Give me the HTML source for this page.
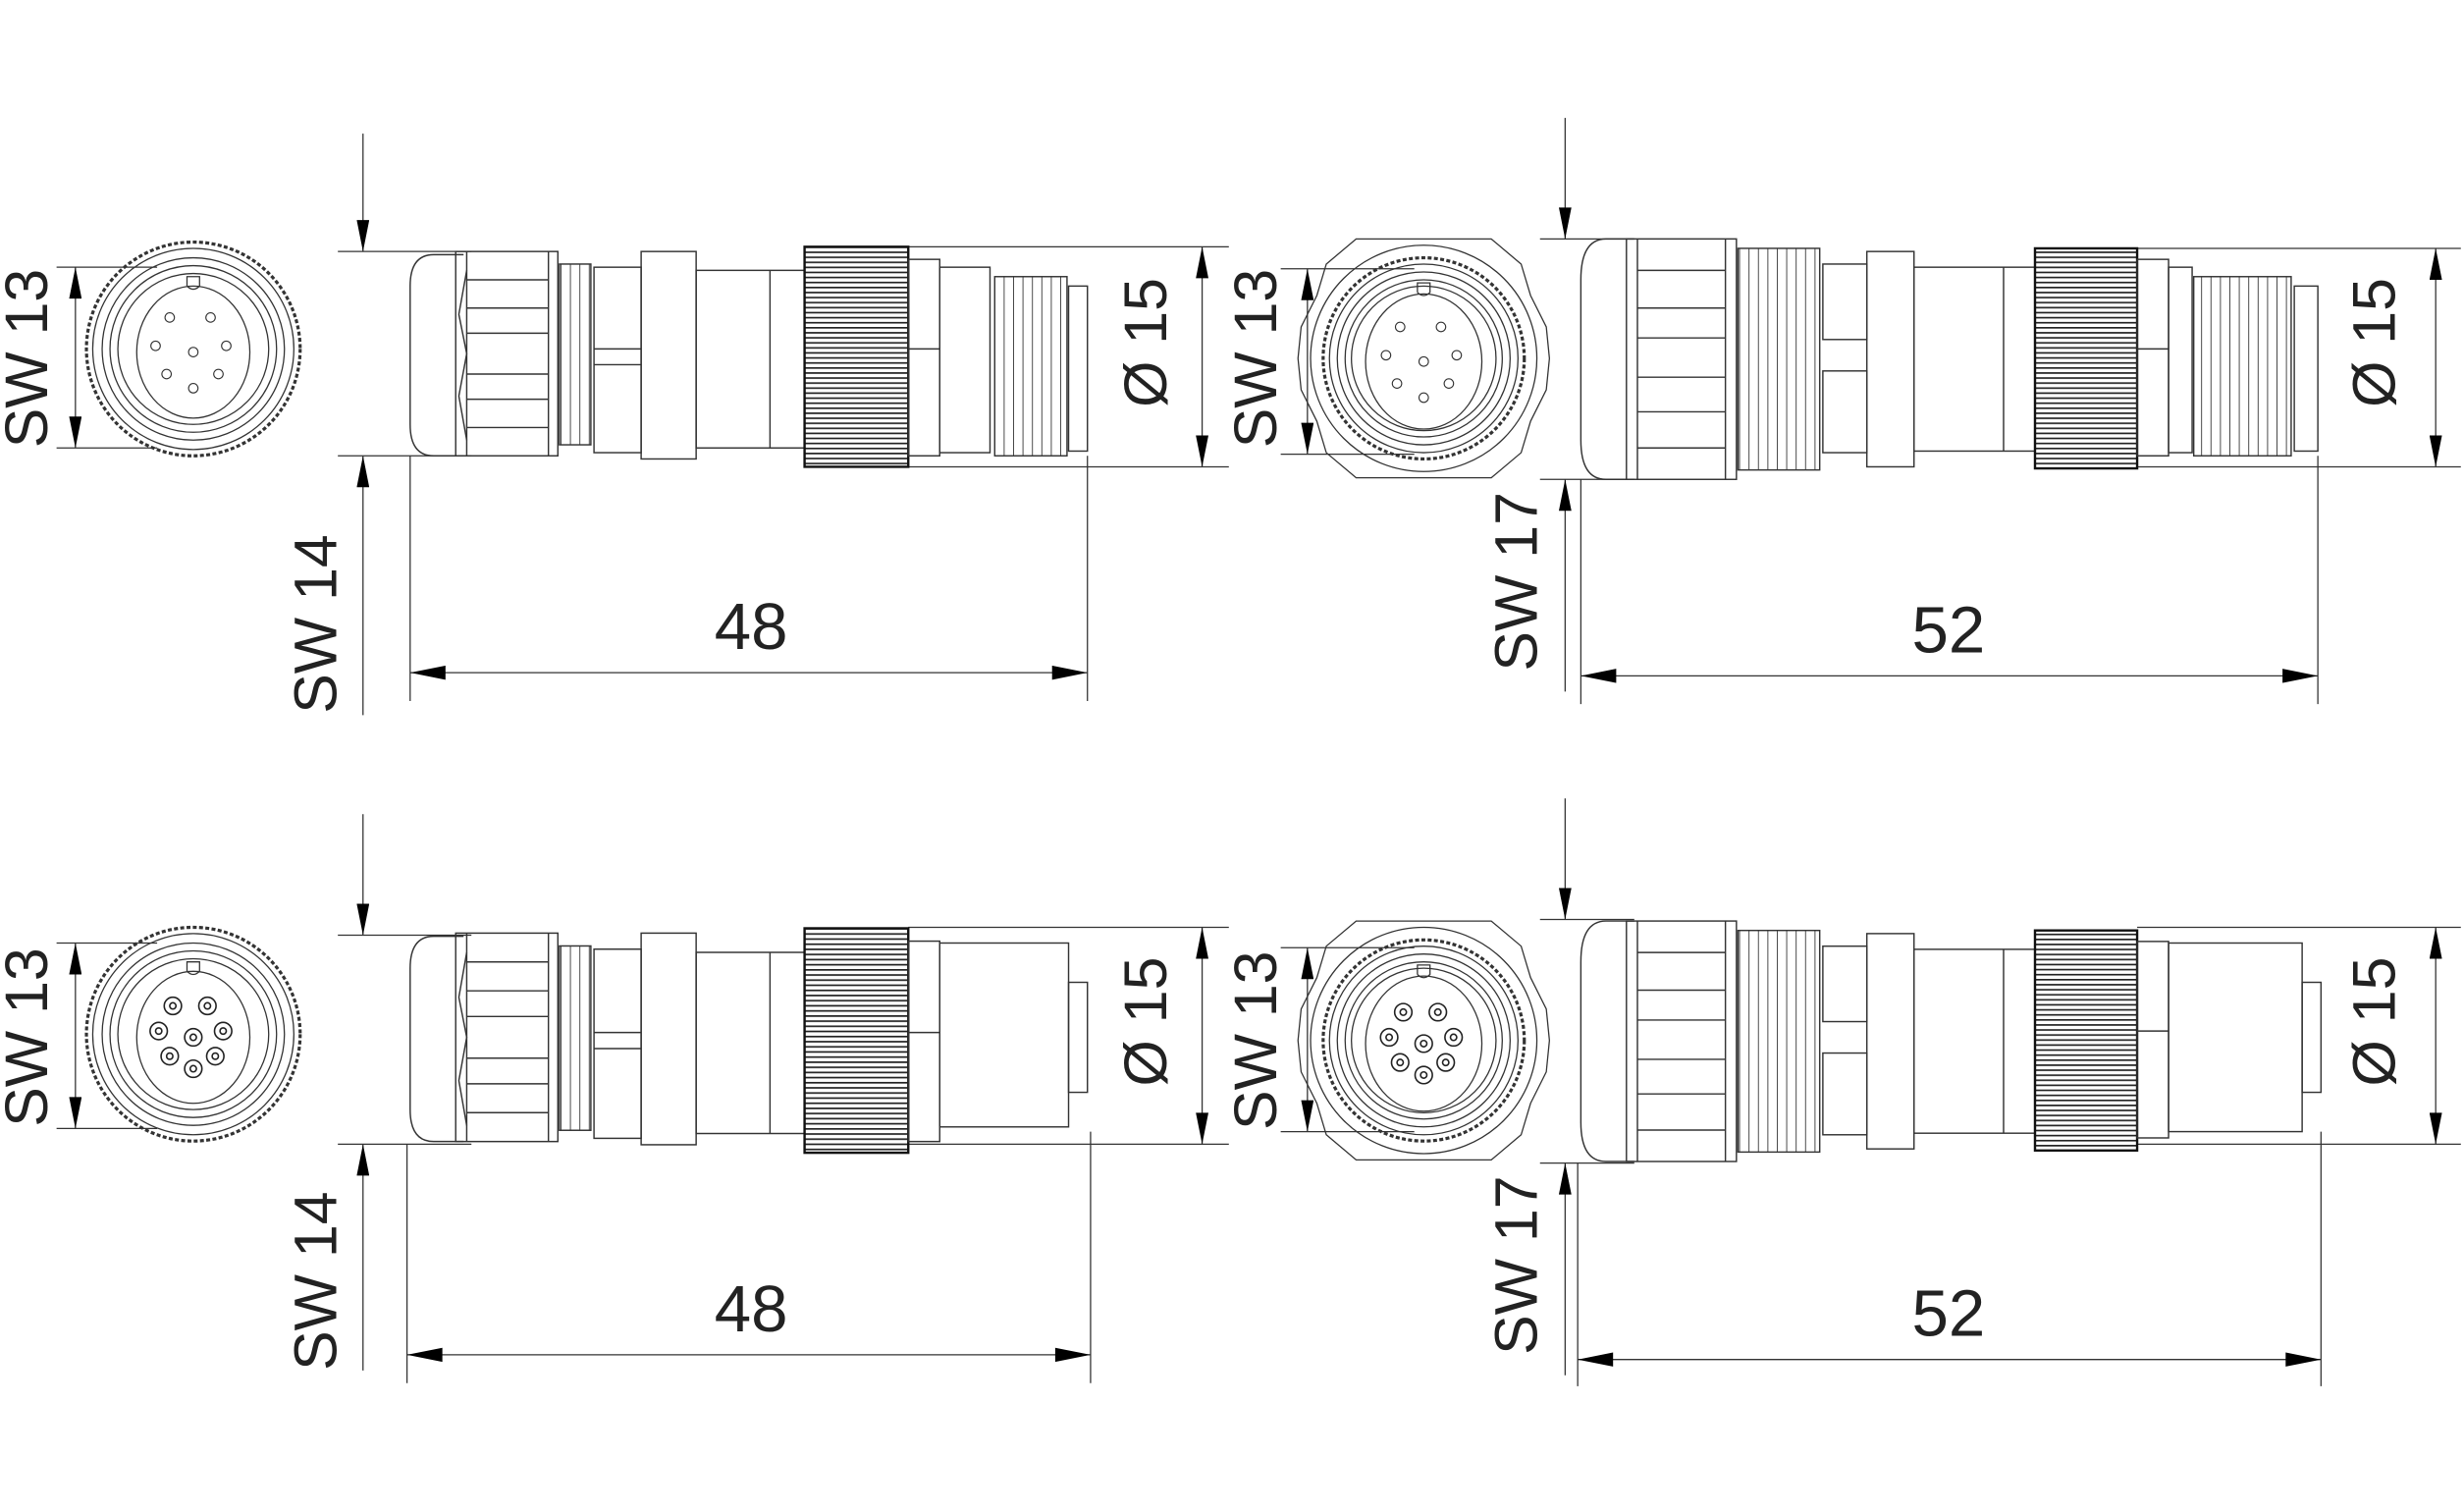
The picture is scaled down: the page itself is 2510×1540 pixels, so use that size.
<!DOCTYPE html>
<html><head><meta charset="utf-8"><style>
html,body{margin:0;padding:0;background:#fff;}
svg{display:block;}
text{font-family:"Liberation Sans",sans-serif;fill:#222;}
</style></head><body>
<svg width="2510" height="1540" viewBox="0 0 1568 962" xmlns="http://www.w3.org/2000/svg">
<defs>
<pattern id="knurl" width="4" height="3.2" patternUnits="userSpaceOnUse"><rect width="4" height="3.2" fill="#fff"/><line x1="0" y1="0.5" x2="4" y2="0.5" stroke="#222" stroke-width="1.1"/></pattern>
<pattern id="thr" width="6" height="10" patternUnits="userSpaceOnUse"><line x1="3" y1="0" x2="3" y2="10" stroke="#444" stroke-width="0.6"/></pattern>
<marker id="arL" viewBox="0 0 20 8" refX="20" refY="4" markerWidth="30" markerHeight="9" markerUnits="userSpaceOnUse" orient="auto-start-reverse"><path d="M0,0 L20,4 L0,8 Z" fill="#000"/></marker>
<marker id="arV" viewBox="0 0 20 8" refX="20" refY="4" markerWidth="28" markerHeight="8" markerUnits="userSpaceOnUse" orient="auto-start-reverse"><path d="M0,0 L20,4 L0,8 Z" fill="#000"/></marker>

<g id="frontS" fill="none" stroke="#333" stroke-width="0.8">
<circle cx="0" cy="0" r="68" stroke-dasharray="2.5 1.5" stroke-width="2"/>
<circle cx="0" cy="0" r="64"/><circle cx="0" cy="0" r="58"/><circle cx="0" cy="0" r="53"/><circle cx="0" cy="0" r="48"/>
<ellipse cx="0" cy="2" rx="36" ry="42"/>
<path d="M-4,-40 v-6 h8 v6 q-4,4 -8,0"/>
</g>
<g id="frontL" fill="none" stroke="#333" stroke-width="0.8">
<path d="M-43,-76 H43 L62,-60 L68,-40 L78,-20 L80,0 L78,20 L68,40 L62,60 L43,76 H-43 L-62,60 L-68,40 L-78,20 L-80,0 L-78,-20 L-68,-40 L-62,-60 Z"/>
<circle cx="0" cy="0" r="72"/>
<circle cx="0" cy="0" r="64" stroke-dasharray="2.5 1.5" stroke-width="2"/>
<circle cx="0" cy="0" r="60"/><circle cx="0" cy="0" r="55"/><circle cx="0" cy="0" r="50"/><circle cx="0" cy="0" r="46"/>
<ellipse cx="0" cy="2" rx="37" ry="43"/>
<path d="M-4,-42 v-6 h8 v6 q-4,4 -8,0"/>
</g>
<g id="pinsS" fill="#fff" stroke="#333" stroke-width="0.7">
<circle cx="-15" cy="-20" r="3"/><circle cx="11" cy="-20" r="3"/><circle cx="-24" cy="-2" r="3"/><circle cx="0" cy="2" r="3"/><circle cx="21" cy="-2" r="3"/><circle cx="-17" cy="16" r="3"/><circle cx="16" cy="16" r="3"/><circle cx="0" cy="25" r="3"/>
</g>
<g id="pinsF" fill="#fff" stroke="#222" stroke-width="1">
<circle cx="-13" cy="-18" r="5.5"/><circle cx="9" cy="-18" r="5.5"/><circle cx="-22" cy="-2" r="5.5"/><circle cx="0" cy="2" r="5.5"/><circle cx="19" cy="-2" r="5.5"/><circle cx="-15" cy="14" r="5.5"/><circle cx="14" cy="14" r="5.5"/><circle cx="0" cy="22" r="5.5"/>
<circle cx="-13" cy="-18" r="2"/><circle cx="9" cy="-18" r="2"/><circle cx="-22" cy="-2" r="2"/><circle cx="0" cy="2" r="2"/><circle cx="19" cy="-2" r="2"/><circle cx="-15" cy="14" r="2"/><circle cx="14" cy="14" r="2"/><circle cx="0" cy="22" r="2"/>
</g>

<g id="bodyS" fill="none" stroke="#333" stroke-width="0.9">
<path d="M295,162 H276 Q261,162 261,182 V270 Q261,290 276,290 H295"/>
<rect x="290" y="160" width="65" height="130"/>
<line x1="297" y1="160" x2="297" y2="290"/><line x1="349" y1="160" x2="349" y2="290"/>
<path d="M297,172 L292,200 L297,225 L292,252 L297,280" />
<line x1="297" y1="178" x2="349" y2="178"/><line x1="297" y1="196" x2="349" y2="196"/><line x1="297" y1="212" x2="349" y2="212"/><line x1="297" y1="238" x2="349" y2="238"/><line x1="297" y1="254" x2="349" y2="254"/><line x1="297" y1="272" x2="349" y2="272"/>
<rect x="356" y="168" width="20" height="115" fill="url(#thr)"/>
<rect x="378" y="170" width="30" height="118"/><line x1="378" y1="222" x2="408" y2="222"/><line x1="378" y1="232" x2="408" y2="232"/>
<rect x="408" y="160" width="35" height="132"/>
<rect x="443" y="172" width="69" height="113"/><line x1="490" y1="172" x2="490" y2="285"/>
<rect x="512" y="157" width="66" height="140" fill="url(#knurl)" stroke="#111" stroke-width="1.5"/>
<rect x="578" y="165" width="20" height="125"/><line x1="578" y1="222" x2="598" y2="222"/>
</g>

<g id="bodyL" fill="none" stroke="#333" stroke-width="0.9">
<path d="M1040,152 H1022 Q1006,152 1006,178 V280 Q1006,305 1022,305 H1040"/>
<rect x="1035" y="152" width="70" height="153"/>
<line x1="1042" y1="152" x2="1042" y2="305"/><line x1="1098" y1="152" x2="1098" y2="305"/>
<line x1="1042" y1="172" x2="1098" y2="172"/><line x1="1042" y1="196" x2="1098" y2="196"/><line x1="1042" y1="215" x2="1098" y2="215"/><line x1="1042" y1="240" x2="1098" y2="240"/><line x1="1042" y1="262" x2="1098" y2="262"/><line x1="1042" y1="285" x2="1098" y2="285"/>
<rect x="1106" y="158" width="52" height="141" fill="url(#thr)"/>
<rect x="1160" y="168" width="28" height="48"/><rect x="1160" y="236" width="28" height="52"/>
<rect x="1188" y="160" width="30" height="137"/>
<rect x="1218" y="170" width="77" height="117"/><line x1="1275" y1="170" x2="1275" y2="287"/>
<rect x="1295" y="158" width="65" height="140" fill="url(#knurl)" stroke="#111" stroke-width="1.5"/>
<rect x="1360" y="165" width="20" height="125"/><line x1="1360" y1="222" x2="1380" y2="222"/>
</g>
</defs>

<!-- TOP LEFT -->
<use href="#frontS" x="123" y="222"/><use href="#pinsS" x="123" y="222"/>
<g stroke="#333" stroke-width="0.8" fill="none">
<line x1="36" y1="170" x2="100" y2="170"/><line x1="36" y1="285" x2="100" y2="285"/>
<line x1="48" y1="170" x2="48" y2="285" marker-start="url(#arV)" marker-end="url(#arV)"/>
<line x1="231" y1="85" x2="231" y2="160" marker-end="url(#arV)"/><line x1="231" y1="455" x2="231" y2="290" marker-end="url(#arV)"/>
<line x1="215" y1="160" x2="300" y2="160"/><line x1="215" y1="290" x2="300" y2="290"/>
<line x1="261" y1="290" x2="261" y2="446"/><line x1="692" y1="290" x2="692" y2="446"/>
<line x1="261" y1="428" x2="692" y2="428" marker-start="url(#arL)" marker-end="url(#arL)"/>
<line x1="578" y1="157" x2="782" y2="157"/><line x1="578" y1="297" x2="782" y2="297"/>
<line x1="765" y1="157" x2="765" y2="297" marker-start="url(#arV)" marker-end="url(#arV)"/>
</g>
<use href="#bodyS"/>
<g fill="none" stroke="#333" stroke-width="0.9">
<rect x="598" y="170" width="32" height="118"/>
<rect x="633" y="176" width="46" height="114" fill="url(#thr)"/>
<rect x="680" y="182" width="12" height="105"/>
</g>
<text x="478" y="413" font-size="42" text-anchor="middle">48</text>
<text transform="translate(30,228) rotate(-90)" font-size="38" text-anchor="middle">SW  13</text>
<text transform="translate(214,397) rotate(-90)" font-size="38" text-anchor="middle">SW  14</text>
<text transform="translate(742,218) rotate(-90)" font-size="38" text-anchor="middle">Ø 15</text>

<!-- TOP RIGHT -->
<use href="#frontL" x="906" y="228"/><use href="#pinsS" x="906" y="228"/>
<g stroke="#333" stroke-width="0.8" fill="none">
<line x1="815" y1="171" x2="900" y2="171"/><line x1="815" y1="289" x2="900" y2="289"/>
<line x1="832" y1="171" x2="832" y2="289" marker-start="url(#arV)" marker-end="url(#arV)"/>
<line x1="996" y1="75" x2="996" y2="152" marker-end="url(#arV)"/><line x1="996" y1="440" x2="996" y2="305" marker-end="url(#arV)"/>
<line x1="980" y1="152" x2="1040" y2="152"/><line x1="980" y1="305" x2="1040" y2="305"/>
<line x1="1006" y1="305" x2="1006" y2="448"/><line x1="1475" y1="290" x2="1475" y2="448"/>
<line x1="1006" y1="430" x2="1475" y2="430" marker-start="url(#arL)" marker-end="url(#arL)"/>
<line x1="1360" y1="158" x2="1566" y2="158"/><line x1="1360" y1="297" x2="1566" y2="297"/>
<line x1="1550" y1="158" x2="1550" y2="297" marker-start="url(#arV)" marker-end="url(#arV)"/>
</g>
<use href="#bodyL"/>
<g fill="none" stroke="#333" stroke-width="0.9">
<rect x="1380" y="170" width="15" height="118"/>
<rect x="1396" y="176" width="62" height="114" fill="url(#thr)"/>
<rect x="1460" y="182" width="15" height="105"/>
</g>
<text x="1240" y="415" font-size="42" text-anchor="middle">52</text>
<text transform="translate(812,228) rotate(-90)" font-size="38" text-anchor="middle">SW  13</text>
<text transform="translate(978,370) rotate(-90)" font-size="38" text-anchor="middle">SW  17</text>
<text transform="translate(1524,218) rotate(-90)" font-size="38" text-anchor="middle">Ø 15</text>

<!-- BOTTOM LEFT -->
<use href="#frontS" x="123" y="658"/><use href="#pinsF" x="123" y="658"/>
<g stroke="#333" stroke-width="0.8" fill="none">
<line x1="36" y1="600" x2="100" y2="600"/><line x1="36" y1="718" x2="100" y2="718"/>
<line x1="48" y1="600" x2="48" y2="718" marker-start="url(#arV)" marker-end="url(#arV)"/>
<line x1="231" y1="518" x2="231" y2="595" marker-end="url(#arV)"/><line x1="231" y1="872" x2="231" y2="728" marker-end="url(#arV)"/>
<line x1="215" y1="595" x2="300" y2="595"/><line x1="215" y1="728" x2="300" y2="728"/>
<line x1="259" y1="728" x2="259" y2="880"/><line x1="694" y1="720" x2="694" y2="880"/>
<line x1="259" y1="862" x2="694" y2="862" marker-start="url(#arL)" marker-end="url(#arL)"/>
<line x1="578" y1="590" x2="782" y2="590"/><line x1="578" y1="728" x2="782" y2="728"/>
<line x1="765" y1="590" x2="765" y2="728" marker-start="url(#arV)" marker-end="url(#arV)"/>
</g>
<use href="#bodyS" transform="translate(0,435) translate(0,225) scale(1,1.02) translate(0,-225)"/>
<g fill="none" stroke="#333" stroke-width="0.9">
<rect x="598" y="600" width="82" height="117"/>
<rect x="680" y="625" width="12" height="70"/>
</g>
<text x="478" y="847" font-size="42" text-anchor="middle">48</text>
<text transform="translate(30,660) rotate(-90)" font-size="38" text-anchor="middle">SW  13</text>
<text transform="translate(214,815) rotate(-90)" font-size="38" text-anchor="middle">SW  14</text>
<text transform="translate(742,650) rotate(-90)" font-size="38" text-anchor="middle">Ø 15</text>

<!-- BOTTOM RIGHT -->
<use href="#frontL" x="906" y="662"/><use href="#pinsF" x="906" y="662"/>
<g stroke="#333" stroke-width="0.8" fill="none">
<line x1="815" y1="603" x2="900" y2="603"/><line x1="815" y1="720" x2="900" y2="720"/>
<line x1="832" y1="603" x2="832" y2="720" marker-start="url(#arV)" marker-end="url(#arV)"/>
<line x1="996" y1="508" x2="996" y2="585" marker-end="url(#arV)"/><line x1="996" y1="875" x2="996" y2="740" marker-end="url(#arV)"/>
<line x1="980" y1="585" x2="1040" y2="585"/><line x1="980" y1="740" x2="1040" y2="740"/>
<line x1="1004" y1="740" x2="1004" y2="882"/><line x1="1477" y1="720" x2="1477" y2="882"/>
<line x1="1004" y1="865" x2="1477" y2="865" marker-start="url(#arL)" marker-end="url(#arL)"/>
<line x1="1360" y1="590" x2="1566" y2="590"/><line x1="1360" y1="728" x2="1566" y2="728"/>
<line x1="1550" y1="590" x2="1550" y2="728" marker-start="url(#arV)" marker-end="url(#arV)"/>
</g>
<use href="#bodyL" transform="translate(0,434)"/>
<g fill="none" stroke="#333" stroke-width="0.9">
<rect x="1380" y="600" width="85" height="120"/>
<rect x="1465" y="625" width="12" height="70"/>
</g>
<text x="1240" y="850" font-size="42" text-anchor="middle">52</text>
<text transform="translate(812,662) rotate(-90)" font-size="38" text-anchor="middle">SW  13</text>
<text transform="translate(978,805) rotate(-90)" font-size="38" text-anchor="middle">SW  17</text>
<text transform="translate(1524,650) rotate(-90)" font-size="38" text-anchor="middle">Ø 15</text>
</svg>
</body></html>
